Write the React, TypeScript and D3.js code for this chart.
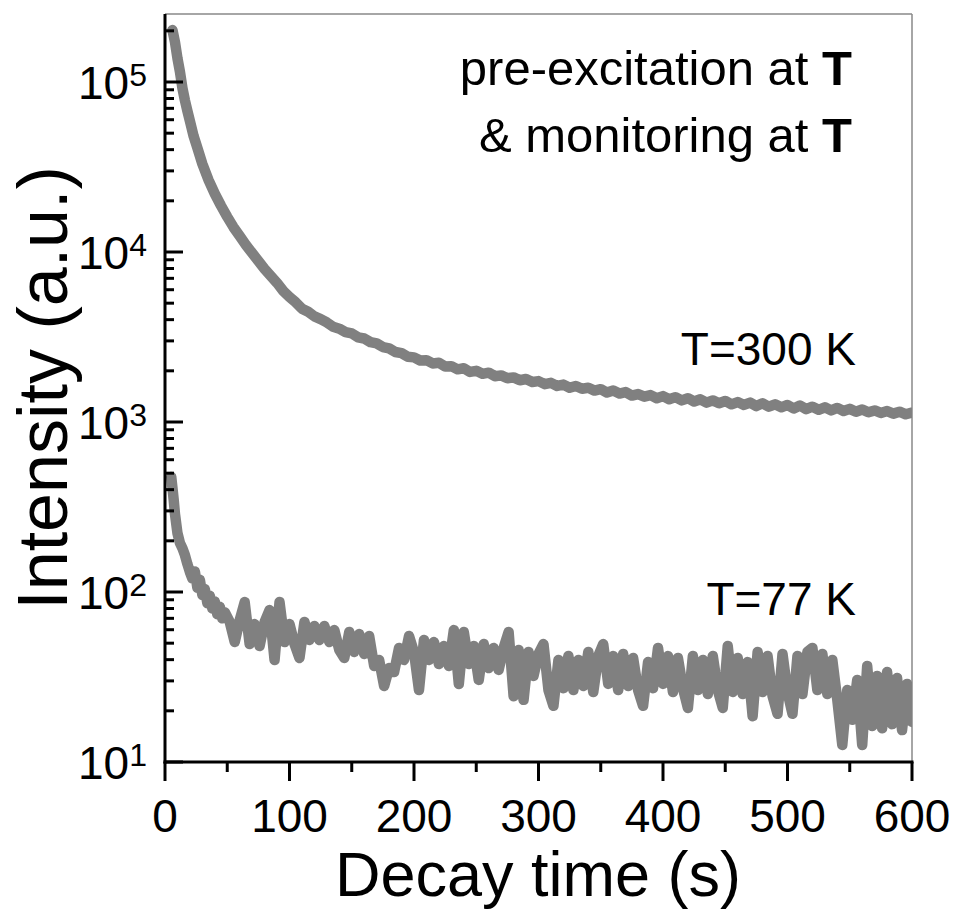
import React from "react";
import * as d3 from "d3";

// T = 300 K decay (time in s, intensity in a.u.)
const t300 = [6, 8, 10, 12, 14, 16, 18, 20, 23, 26, 30, 35, 40, 45, 50, 55, 60, 65, 70, 75, 80, 85, 90, 95,
  100, 105, 110, 115, 120, 125, 130, 135, 140, 145, 150, 155, 160, 165, 170, 175, 180, 185, 190, 195,
  200, 205, 210, 215, 220, 225, 230, 235, 240, 245, 250, 255, 260, 265, 270, 275, 280, 285, 290, 295,
  300, 305, 310, 315, 320, 325, 330, 335, 340, 345, 350, 355, 360, 365, 370, 375, 380, 385, 390, 395,
  400, 405, 410, 415, 420, 425, 430, 435, 440, 445, 450, 455, 460, 465, 470, 475, 480, 485, 490, 495,
  500, 505, 510, 515, 520, 525, 530, 535, 540, 545, 550, 555, 560, 565, 570, 575, 580, 585, 590, 595, 600];
const v300 = [202000, 172000, 138000, 115000, 92000, 78000, 67500, 59000, 48000, 41000, 33000, 26500, 22000, 18700,
  16100, 14000, 12400, 11000, 9860, 8850, 7940, 7230, 6580, 5900,
  5436, 5060, 4640, 4450, 4180, 4030, 3850, 3630, 3540, 3380, 3320, 3150, 3100, 2950, 2900, 2760, 2710, 2580, 2540, 2420,
  2400, 2300, 2310, 2210, 2230, 2120, 2130, 2040, 2070, 1970, 2000, 1920, 1950, 1860, 1880, 1810, 1830, 1760, 1790, 1720,
  1740, 1670, 1700, 1630, 1660, 1590, 1630, 1570, 1590, 1530, 1560, 1490, 1530, 1470, 1500, 1430, 1460, 1410, 1440, 1380,
  1420, 1360, 1400, 1340, 1380, 1320, 1360, 1300, 1340, 1290, 1330, 1270, 1310, 1260, 1300, 1240, 1290, 1230, 1270, 1220,
  1260, 1200, 1250, 1190, 1230, 1180, 1220, 1170, 1210, 1160, 1195, 1150, 1185, 1140, 1170, 1130, 1160, 1120, 1150, 1110, 1135];

// T = 77 K decay
const t77Early = [5, 6, 7, 8, 10, 12, 14, 16, 18, 20, 22, 24, 26, 28, 30, 32, 34, 36, 38, 40, 42, 44, 46, 48];
const v77Early = [475, 409, 348, 288, 222, 194, 181, 165, 146, 131, 120, 132, 106, 118, 96, 104, 86, 95, 80, 88, 74, 82, 70, 76];
const t77Start = 52;
const t77Step = 4;
const v77Late = [
  66.6, 50.8, 68.3, 87.3, 49.4, 64.8, 48.1, 66.6, 78.3, 39.8, 87.3, 50.8, 64.8, 49.4, 40.9, 66.6,
  52.2, 63.1, 52.2, 63.1, 50.8, 59.7, 45.6, 40.9, 58.2, 44.4, 56.6, 43.2, 55.1, 36.7, 39.8, 28.0,
  35.7, 33.8, 46.9, 39.8, 55.1, 44.4, 26.5, 52.2, 39.8, 50.8, 37.7, 48.1, 36.7, 59.7, 28.8, 58.2,
  37.7, 48.1, 30.4, 49.4, 35.7, 46.9, 34.8, 46.9, 58.2, 24.4, 45.6, 23.2, 44.4, 32.1, 43.2, 49.4,
  26.5, 21.4, 39.8, 27.2, 42.0, 26.5, 39.8, 28.0, 44.4, 25.8, 42.0, 49.4, 28.8, 42.0, 26.5, 43.2,
  28.0, 40.9, 26.5, 21.4, 38.7, 27.2, 46.9, 28.8, 42.0, 25.8, 40.9, 27.2, 20.8, 42.0, 26.5, 39.8,
  25.1, 42.0, 26.5, 20.8, 48.1, 25.8, 40.9, 25.1, 38.7, 18.6, 44.4, 25.8, 42.0, 24.4, 19.2, 43.2,
  25.8, 19.2, 42.0, 25.1, 44.4, 46.9, 26.5, 43.2, 25.1, 39.8, 23.2, 12.6, 26.5, 17.7, 30.4, 12.6,
  36.7, 16.3, 32.1, 15.8, 33.8, 16.7, 31.2, 15.4, 28.8, 17.2];

const xTicks = [0, 100, 200, 300, 400, 500, 600];
const xMinorTicks = [50, 150, 250, 350, 450, 550];
const yDecades = [1, 2, 3, 4, 5];
const yMinorMultipliers = [2, 3, 4, 5, 6, 7, 8, 9];

const FONT = "'Liberation Sans', Arial, Helvetica, sans-serif";

export default function App() {
  const W = 956, H = 917;
  const left = 165, right = 912, top = 14, bottom = 762;
  const x = d3.scaleLinear().domain([0, 600]).range([left, right]);
  const y = d3.scaleLog().domain([10, Math.pow(10, 5.4)]).range([bottom, top]);

  const d300: [number, number][] = t300.map((t, i) => [t, v300[i]]);
  const d77: [number, number][] = [
    ...t77Early.map((t, i) => [t, v77Early[i]] as [number, number]),
    ...v77Late.map((v, i) => [t77Start + i * t77Step, v] as [number, number]),
  ];
  const line = d3.line<[number, number]>().x(d => x(d[0])).y(d => y(d[1]));

  const yMinor: number[] = [];
  yDecades.forEach(e => yMinorMultipliers.forEach(m => {
    const v = m * Math.pow(10, e);
    if (v <= y.domain()[1]) yMinor.push(v);
  }));

  return (
    <svg width={W} height={H} style={{ position: "absolute", left: 0, top: 0, background: "#fff" }}
      fontFamily={FONT}>
      <defs>
        <clipPath id="plotclip">
          <rect x={left} y={top} width={right - left} height={bottom - top} />
        </clipPath>
      </defs>
      <rect x={0} y={0} width={W} height={H} fill="#fff" />
      {/* frame top & right */}
      <line x1={left} x2={right} y1={top} y2={top} stroke="#888" strokeWidth={1.5} />
      <line x1={right} x2={right} y1={top} y2={bottom} stroke="#888" strokeWidth={1.5} />

      <g clipPath="url(#plotclip)">
        <path d={line(d300) || ""} fill="none" stroke="#808080" strokeWidth={10.5}
          strokeLinejoin="round" strokeLinecap="round" />
        <path d={line(d77) || ""} fill="none" stroke="#808080" strokeWidth={10.5}
          strokeLinejoin="round" strokeLinecap="round" />
      </g>

      {/* axes */}
      <line x1={left} x2={left} y1={top} y2={bottom + 1.5} stroke="#000" strokeWidth={3} />
      <line x1={left - 1.5} x2={right + 1.5} y1={bottom} y2={bottom} stroke="#000" strokeWidth={3} />

      {yDecades.map(e => (
        <g key={"yt" + e}>
          <line x1={left} x2={left + 18} y1={y(Math.pow(10, e))} y2={y(Math.pow(10, e))} stroke="#000" strokeWidth={3} />
          <text x={147} y={y(Math.pow(10, e)) + 17} textAnchor="end" fontSize={46} fill="#000">
            10<tspan dy={-13} fontSize={32}>{e}</tspan>
          </text>
        </g>
      ))}
      {yMinor.map((v, i) => (
        <line key={"ym" + i} x1={left} x2={left + 9} y1={y(v)} y2={y(v)} stroke="#000" strokeWidth={3} />
      ))}

      {xTicks.map(t => (
        <g key={"xt" + t}>
          <line x1={x(t)} x2={x(t)} y1={bottom} y2={bottom + 19} stroke="#000" strokeWidth={3} />
          <text x={x(t)} y={832} textAnchor="middle" fontSize={46} fill="#000">{t}</text>
        </g>
      ))}
      {xMinorTicks.map(t => (
        <line key={"xm" + t} x1={x(t)} x2={x(t)} y1={bottom} y2={bottom + 10} stroke="#000" strokeWidth={3} />
      ))}

      <text x={538} y={896} textAnchor="middle" fontSize={63} fill="#000">Decay time (s)</text>
      <text transform={`translate(67, 388) rotate(-90)`} textAnchor="middle" fontSize={70} fill="#000">Intensity (a.u.)</text>

      <text x={852} y={85} textAnchor="end" fontSize={49} fill="#000">pre-excitation at <tspan fontWeight="bold">T</tspan></text>
      <text x={852} y={152} textAnchor="end" fontSize={49} fill="#000">&amp; monitoring at <tspan fontWeight="bold">T</tspan></text>
      <text x={856} y={365} textAnchor="end" fontSize={46} fill="#000">T=300 K</text>
      <text x={856} y={615} textAnchor="end" fontSize={46} fill="#000">T=77 K</text>
    </svg>
  );
}
